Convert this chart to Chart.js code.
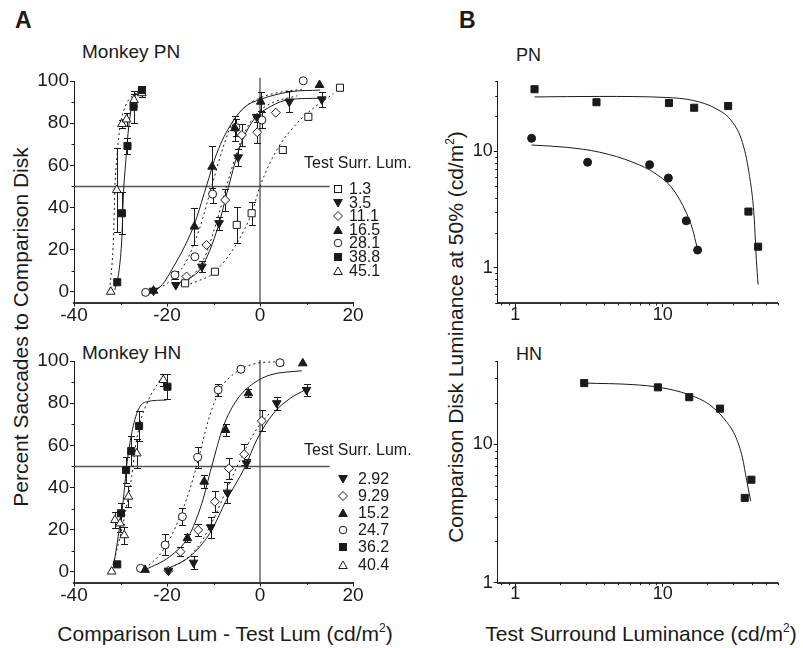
<!DOCTYPE html>
<html>
<head>
<meta charset="utf-8">
<script src="https://cdn.jsdelivr.net/npm/chart.js@4.4.1/dist/chart.umd.min.js"></script>
<style>
  body { margin: 0; background: #fff; width: 803px; height: 648px; position: relative; overflow: hidden;
         font-family: "Liberation Sans", Arial, sans-serif; color: #1a1a1a; }
  canvas { position: absolute; }
  .t { position: absolute; white-space: nowrap; line-height: 1; }
  .vt { position: absolute; white-space: nowrap; line-height: 1; transform: translate(-50%, -50%) rotate(-90deg); }
  .ct { position: absolute; white-space: nowrap; line-height: 1; transform: translate(-50%, -50%); }
  sup { font-size: 12px; vertical-align: 9px; line-height: 0; }
  .lg { position: absolute; font-size: 16px; line-height: 1; white-space: nowrap; }
  .lg svg { position: absolute; }
</style>
</head>
<body>
<div class="t" style="left:15px;top:9px;font-size:23px;font-weight:bold;">A</div>
<div class="t" style="left:459px;top:9px;font-size:23px;font-weight:bold;">B</div>
<div class="t" style="left:82px;top:42px;font-size:19px;">Monkey PN</div>
<div class="t" style="left:82px;top:343px;font-size:19px;">Monkey HN</div>
<div class="t" style="left:516px;top:46px;font-size:18px;">PN</div>
<div class="t" style="left:516px;top:345px;font-size:18px;">HN</div>
<div class="vt" style="left:20px;top:327px;font-size:21px;">Percent Saccades to Comparison Disk</div>
<div class="ct" style="left:225px;top:633px;font-size:21px;">Comparison Lum - Test Lum (cd/m<sup>2</sup>)</div>
<div class="vt" style="left:455px;top:337px;font-size:21px;">Comparison Disk Luminance at 50% (cd/m<sup>2</sup>)</div>
<div class="ct" style="left:641px;top:633px;font-size:21px;">Test Surround Luminance (cd/m<sup>2</sup>)</div>

<canvas id="aPN" width="400" height="270" style="left:0;top:60px;"></canvas>
<canvas id="aHN" width="400" height="280" style="left:0;top:330px;"></canvas>
<canvas id="bPN" width="383" height="270" style="left:420px;top:60px;"></canvas>
<canvas id="bHN" width="383" height="280" style="left:420px;top:330px;"></canvas>
<div id="legPN"></div>
<div id="legHN"></div>

<script>
// ---------- Panel A, monkey PN ----------
const pnLabels = ['1.3', '3.5', '11.1', '16.5', '28.1', '38.8', '45.1'];

const pn1_3x = [-16.1, -9.7, -5.0, -1.8, 4.9, 10.4, 17.2];
const pn1_3y = [4.1, 9.6, 31.8, 37.3, 67.3, 83.0, 96.8];
const pn1_3e = [0, 0, 8.7, 5.5, 1.5, 1, 0];

const pn3_5x = [-22.9, -18.1, -12.5, -8.8, -4.7, -0.7, 6.3, 13.3];
const pn3_5y = [0.6, 3.3, 12.0, 32.6, 63.8, 83.0, 90.2, 91.3];
const pn3_5e = [0, 0, 2.5, 3, 4, 0, 5, 3.5];

const pn11_1x = [-15.8, -11.5, -7.5, -3.9, -0.6, 3.4];
const pn11_1y = [7.3, 22.3, 43.6, 74.4, 75.7, 85.0];
const pn11_1e = [0, 0, 5, 5, 5, 0];

const pn16_5x = [-22.9, -14.1, -10.3, -5.4, 0.15, 12.8];
const pn16_5y = [0.6, 31.0, 59.4, 77.6, 90.2, 98.1];
const pn16_5e = [0, 8.7, 10, 6, 4.5, 0];

const pn28_1x = [-24.6, -18.3, -14.0, -10.2, -5.2, 0.4, 9.3];
const pn28_1y = [-0.2, 8.1, 16.7, 46.4, 78.0, 81.5, 100.1];
const pn28_1e = [0, 2, 0, 4, 4, 4, 0];

const pn38_8x = [-30.7, -29.7, -28.5, -27.2, -25.4];
const pn38_8y = [4.6, 37.3, 69.2, 87.8, 95.7];
const pn38_8e = [0, 10, 4, 7.5, 2];

const pn45_1x = [-32.1, -30.8, -29.7, -28.7, -27.1, -25.4];
const pn45_1y = [0.1, 48.3, 79.6, 81.8, 91.0, 94.2];
const pn45_1e = [0, 20, 2, 3, 3, 2];

// fitted curves, PN
const fitPN1_3x = [-16, -13, -10, -5, -1.8, 0, 3.6, 8.6, 12, 15.8];
const fitPN1_3y = [3, 5.5, 8.9, 23, 37.3, 50, 67.3, 81.5, 88, 94];
const fitPN3_5x = [-18, -12.5, -9, -6.8, -4.3, -1.4, 2.2, 6.5, 13];
const fitPN3_5y = [3.5, 12, 31, 49.6, 68.9, 81.5, 87.8, 91.3, 91.8];
const fitPN11_1x = [-18, -15, -12, -9.5, -7.2, -5, -3, 0, 3, 8];
const fitPN11_1y = [2, 6.5, 16, 32, 50, 66, 77, 86, 90, 93];
const fitPN16_5x = [-23, -21, -19.4, -14.3, -11.6, -9.3, -6.1, -3.2, 0.1, 6.5, 12.9];
const fitPN16_5y = [0, 3.5, 8.9, 31, 49.6, 65.7, 80, 87.8, 91.3, 94.9, 95.7];
const fitPN28_1x = [-25, -20, -16, -13, -10.4, -8, -6, -3, 0, 5, 9];
const fitPN28_1y = [0, 4, 14, 30, 50, 68, 80, 88, 92, 95, 96];
const fitPN38_8x = [-31.2, -30.3, -29.7, -29.4, -28.9, -28.3, -27.6, -26.2, -25.4];
const fitPN38_8y = [1, 10.4, 26.2, 45, 61, 76.8, 87.8, 94.9, 96.5];
const fitPN45_1x = [-32.3, -31.5, -31.2, -30.7, -30.1, -29, -27.2, -25.4];
const fitPN45_1y = [1, 26, 49.6, 65.7, 78.3, 87.8, 93.4, 95];

// ---------- Panel A, monkey HN ----------
const hnLabels = ['2.92', '9.29', '15.2', '24.7', '36.2', '40.4'];

const hn2_92x = [-19.7, -14.3, -10.6, -7.0, -2.9, 3.6, 10.0];
const hn2_92y = [0.6, 4.4, 21.2, 37.6, 51.5, 80.0, 86.3];
const hn2_92e = [0, 3, 5, 5, 2, 3, 3];

const hn9_29x = [-19.7, -17.1, -13.3, -9.7, -6.7, -3.4, 0.4];
const hn9_29y = [0.6, 9.6, 19.9, 33.3, 49.1, 55.8, 71.6];
const hn9_29e = [0, 2, 3, 5, 5, 5, 5];

const hn15_2x = [-24.7, -15.6, -12.0, -7.4, -2.5, 9.2];
const hn15_2y = [1.0, 16.0, 42.8, 67.3, 84.7, 98.9];
const hn15_2e = [0, 2, 3, 3, 2, 0];

const hn24_7x = [-25.7, -20.4, -16.7, -13.4, -9.0, -4.1, 4.3];
const hn24_7y = [1.7, 12.8, 26.2, 54.3, 86.3, 96.1, 99.2];
const hn24_7e = [0, 5, 4, 5, 3, 0, 1];

const hn36_2x = [-30.7, -29.9, -28.8, -27.7, -26.0, -19.9];
const hn36_2y = [3.6, 27.8, 48.3, 57.3, 69.2, 87.8];
const hn36_2e = [0, 5, 6, 7, 7, 6];

const hn40_4x = [-31.9, -31.2, -30.1, -29.2, -28.3, -26.5, -20.8];
const hn40_4y = [0.2, 24.6, 23.0, 17.4, 35.7, 56.2, 91.0];
const hn40_4e = [0, 4, 4, 4, 5, 7, 3];

// fitted curves, HN
const fitHN2_92x = [-20.4, -15.1, -10.8, -7.2, -3.2, -0.7, 2.9, 6.5, 9.7];
const fitHN2_92y = [1, 7.3, 18.3, 34.1, 49.9, 62.6, 75.2, 82.3, 86.3];
const fitHN9_29x = [-20.4, -16, -13, -10, -7, -4.5, -2, 0, 2];
const fitHN9_29y = [1, 6, 13, 25, 40, 52, 63, 70, 75];
const fitHN15_2x = [-24.7, -19.4, -15.4, -12.5, -10.4, -7.9, -5, -1.4, 2.2, 9];
const fitHN15_2y = [1, 7.3, 16.7, 32.6, 49.9, 68.9, 81.5, 89.4, 93.4, 95.4];
const fitHN24_7x = [-24.7, -20.8, -17.2, -14.7, -13.3, -11.1, -8.6, -5, -0.7, 4.3];
const fitHN24_7y = [1.5, 10.4, 26.2, 42, 53, 72, 86.3, 94.9, 98.9, 99.7];
const fitHN36_2x = [-31.5, -30.5, -29.4, -28.7, -27.6, -26.2, -24.4, -20.1];
const fitHN36_2y = [2.5, 16.7, 34.1, 49.9, 65.7, 76.8, 80.7, 81.5];
const fitHN40_4x = [-31.9, -30.1, -28.7, -27.6, -26.9, -25.8, -24, -21.5];
const fitHN40_4y = [1, 16.7, 31, 45.2, 57.8, 70.5, 81.5, 91];

// reference lines of panel A
const line50x = [-40, 15];
const line50y = [50, 50];
const lineZeroX = [0, 0];
const lineZeroYpn = [-5, 101.5];
const lineZeroYhn = [-5, 100.5];

// axis ticks
const aTicksX = [-40, -30, -20, -10, 0, 10, 20];
const aTicksY = [0, 10, 20, 30, 40, 50, 60, 70, 80, 90, 100];
const bTicksX = [0.8, 0.9, 1, 2, 3, 4, 5, 6, 7, 8, 9, 10, 20, 30, 40, 50, 60];
const bTicksYpn = [0.5, 0.6, 0.7, 0.8, 0.9, 1, 2, 3, 4, 5, 6, 7, 8, 9, 10, 20, 30, 40];
const bTicksYhn = [1, 2, 3, 4, 5, 6, 7, 8, 9, 10, 20, 30, 40];

// ---------- Panel B ----------
const bPNsqX = [1.35, 3.55, 11.0, 16.3, 27.7, 38.0, 44.2];
const bPNsqY = [34.0, 26.3, 25.9, 23.6, 24.4, 3.04, 1.52];
const bPNciX = [1.29, 3.09, 8.13, 10.9, 14.4, 17.2];
const bPNciY = [12.9, 8.04, 7.67, 5.89, 2.53, 1.42];
const fitBPNsqX = [1.35, 3.74, 10.5, 15.9, 22.9, 29.6, 34.6, 38.3, 41.5, 43, 44.2];
const fitBPNsqY = [29.2, 29.5, 28.9, 27.3, 23.2, 17.8, 11.9, 6.59, 2.79, 1.18, 0.72];
const fitBPNciX = [1.29, 2.23, 3.74, 6.27, 9.0, 11.7, 14.4, 15.9, 17.0];
const fitBPNciY = [11.3, 10.8, 9.8, 8.04, 6.38, 4.73, 2.98, 2.14, 1.52];

const bHNsqX = [2.93, 9.25, 15.1, 24.4, 35.9, 39.8];
const bHNsqY = [27.7, 25.8, 21.9, 18.1, 4.1, 5.55];
const fitBHNx = [2.93, 6.27, 9.5, 15.1, 20.6, 26.8, 31.3, 34.6, 37, 39.4];
const fitBHNy = [27.7, 27, 25.8, 22.8, 19.4, 14.7, 11.2, 8.02, 5.46, 3.88];

// ---------- helpers ----------
const FONT = '"Liberation Sans", Arial, sans-serif';
const INK = '#1a1a1a';
Chart.defaults.font.family = FONT;
Chart.defaults.color = INK;

const MK = {
  openSquare: { style: 'rect', r: 5, filled: false, rot: 0 },
  fillSquare: { style: 'rect', r: 5, filled: true, rot: 0 },
  openCircle: { style: 'circle', r: 4, filled: false, rot: 0 },
  fillCircle: { style: 'circle', r: 4, filled: true, rot: 0 },
  openDiamond: { style: 'rectRot', r: 4.5, filled: false, rot: 0 },
  upTri: { style: 'triangle', r: 5, filled: true, rot: 0 },
  downTri: { style: 'triangle', r: 5, filled: true, rot: 180 },
  openTri: { style: 'triangle', r: 5, filled: false, rot: 0 }
};

function pts(xs, ys) {
  return xs.map((x, i) => ({ x: x, y: ys[i] }));
}

function markers(xs, ys, errs, mk) {
  return {
    data: pts(xs, ys),
    errors: errs,
    showLine: false,
    pointStyle: mk.style,
    pointRadius: mk.r,
    pointRotation: mk.rot,
    pointBackgroundColor: mk.filled ? INK : '#fff',
    pointBorderColor: INK,
    pointBorderWidth: 1,
    clip: false,
    order: 1
  };
}

function curve(xs, ys, dotted) {
  return {
    data: pts(xs, ys),
    showLine: true,
    pointRadius: 0,
    borderColor: INK,
    borderWidth: 1,
    borderDash: dotted ? [2, 3] : [],
    cubicInterpolationMode: 'monotone',
    clip: false,
    order: 2
  };
}

function refLine(xs, ys, color, width) {
  return {
    data: pts(xs, ys),
    showLine: true,
    pointRadius: 0,
    borderColor: color,
    borderWidth: width,
    clip: false,
    order: 3
  };
}

const errorBarPlugin = {
  id: 'errorBars',
  beforeDatasetsDraw(chart) {
    const ctx = chart.ctx;
    const x = chart.scales.x, y = chart.scales.y;
    ctx.save();
    ctx.strokeStyle = INK;
    ctx.lineWidth = 1;
    chart.data.datasets.forEach(ds => {
      if (!ds.errors) return;
      ds.data.forEach((p, i) => {
        const e = ds.errors[i];
        if (!e) return;
        const px = Math.round(x.getPixelForValue(p.x)) + 0.5;
        const yt = Math.round(y.getPixelForValue(p.y + e)) + 0.5;
        const yb = Math.round(y.getPixelForValue(p.y - e)) + 0.5;
        ctx.beginPath();
        ctx.moveTo(px, yt); ctx.lineTo(px, yb);
        ctx.moveTo(px - 3.5, yt); ctx.lineTo(px + 3.5, yt);
        ctx.moveTo(px - 3.5, yb); ctx.lineTo(px + 3.5, yb);
        ctx.stroke();
      });
    });
    ctx.restore();
  }
};

// unlabelled ticks get a short mark; labelled ones keep the normal tick
const minorTickPlugin = {
  id: 'minorTicks',
  afterDraw(chart) {
    const ctx = chart.ctx;
    ctx.save();
    ctx.strokeStyle = INK;
    ctx.lineWidth = 1;
    ['x', 'y'].forEach(k => {
      const s = chart.scales[k];
      s.ticks.forEach(t => {
        if (t.label !== '') return;
        const p = Math.round(s.getPixelForValue(t.value)) + 0.5;
        ctx.beginPath();
        if (s.isHorizontal()) { ctx.moveTo(p, s.top); ctx.lineTo(p, s.top + 2.5); }
        else { ctx.moveTo(s.right - 2.5, p); ctx.lineTo(s.right, p); }
        ctx.stroke();
      });
    });
    ctx.restore();
  }
};

function axis(type, min, max, tickVals, size, labelOf, fontSize, pad, borderW) {
  return {
    type: type,
    min: min,
    max: max,
    afterBuildTicks: s => { s.ticks = tickVals.map(v => ({ value: v })); },
    afterFit: s => { if (s.isHorizontal()) s.height = size; else s.width = size; },
    ticks: {
      autoSkip: false,
      maxRotation: 0,
      padding: pad,
      color: INK,
      font: { size: fontSize },
      callback: v => labelOf(v) ? String(v) : ''
    },
    grid: {
      display: true,
      drawOnChartArea: false,
      drawTicks: true,
      tickLength: 4,
      tickColor: c => (c.tick && c.tick.label !== '') ? INK : 'rgba(0,0,0,0)',
      tickWidth: 1
    },
    border: { display: true, color: borderW > 1 ? '#333' : INK, width: borderW }
  };
}

function makeChart(id, datasets, scales, padding) {
  return new Chart(document.getElementById(id), {
    type: 'scatter',
    data: { datasets: datasets },
    options: {
      responsive: false,
      animation: false,
      devicePixelRatio: 1,
      layout: { padding: padding },
      plugins: { legend: { display: false }, tooltip: { enabled: false } },
      scales: scales
    },
    plugins: [errorBarPlugin, minorTickPlugin]
  });
}

const evenTwenty = v => v % 20 === 0;
const decade = v => v === 1 || v === 10;

function aScales(xh) {
  return {
    x: axis('linear', -40, 20, aTicksX, xh, evenTwenty, 19, -2, 2),
    y: axis('linear', -5, 100, aTicksY, 74, evenTwenty, 19, 1, 1)
  };
}

// ---------- panel A charts ----------
makeChart('aPN', [
  markers(pn1_3x, pn1_3y, pn1_3e, MK.openSquare),
  markers(pn3_5x, pn3_5y, pn3_5e, MK.downTri),
  markers(pn11_1x, pn11_1y, pn11_1e, MK.openDiamond),
  markers(pn16_5x, pn16_5y, pn16_5e, MK.upTri),
  markers(pn28_1x, pn28_1y, pn28_1e, MK.openCircle),
  markers(pn38_8x, pn38_8y, pn38_8e, MK.fillSquare),
  markers(pn45_1x, pn45_1y, pn45_1e, MK.openTri),
  curve(fitPN1_3x, fitPN1_3y, true),
  curve(fitPN3_5x, fitPN3_5y, false),
  curve(fitPN11_1x, fitPN11_1y, true),
  curve(fitPN16_5x, fitPN16_5y, false),
  curve(fitPN28_1x, fitPN28_1y, true),
  curve(fitPN38_8x, fitPN38_8y, false),
  curve(fitPN45_1x, fitPN45_1y, true),
  refLine(line50x, line50y, '#555', 1.5),
  refLine(lineZeroX, lineZeroYpn, INK, 1)
], aScales(27.5), { left: 0, top: 21, right: 47, bottom: 0 });

makeChart('aHN', [
  markers(hn2_92x, hn2_92y, hn2_92e, MK.downTri),
  markers(hn9_29x, hn9_29y, hn9_29e, MK.openDiamond),
  markers(hn15_2x, hn15_2y, hn15_2e, MK.upTri),
  markers(hn24_7x, hn24_7y, hn24_7e, MK.openCircle),
  markers(hn36_2x, hn36_2y, hn36_2e, MK.fillSquare),
  markers(hn40_4x, hn40_4y, hn40_4e, MK.openTri),
  curve(fitHN2_92x, fitHN2_92y, false),
  curve(fitHN9_29x, fitHN9_29y, true),
  curve(fitHN15_2x, fitHN15_2y, false),
  curve(fitHN24_7x, fitHN24_7y, true),
  curve(fitHN36_2x, fitHN36_2y, false),
  curve(fitHN40_4x, fitHN40_4y, true),
  refLine(line50x, line50y, '#555', 1.5),
  refLine(lineZeroX, lineZeroYhn, INK, 1)
], aScales(27.5), { left: 0, top: 31, right: 47, bottom: 0 });

// ---------- panel B charts ----------
makeChart('bPN', [
  markers(bPNsqX, bPNsqY, null, MK.fillSquare),
  markers(bPNciX, bPNciY, null, MK.fillCircle),
  curve(fitBPNsqX, fitBPNsqY, false),
  curve(fitBPNciX, fitBPNciY, false)
], {
  x: axis('logarithmic', 0.76, 60, bTicksX, 27, decade, 18, -3, 2),
  y: axis('logarithmic', 0.5, 40, bTicksYpn, 77.7, decade, 18, 1, 1)
}, { left: 0, top: 21, right: 25.3, bottom: 0 });

makeChart('bHN', [
  markers(bHNsqX, bHNsqY, null, MK.fillSquare),
  curve(fitBHNx, fitBHNy, false)
], {
  x: axis('logarithmic', 0.76, 60, bTicksX, 27.3, decade, 18, -3, 2),
  y: axis('logarithmic', 1, 40, bTicksYhn, 77.7, decade, 18, 1, 1)
}, { left: 0, top: 31, right: 25.3, bottom: 0 });

// ---------- legends (panel A) ----------
function markerSvg(mk) {
  const f = mk.filled ? INK : '#fff';
  const a = `fill="${f}" stroke="${INK}" stroke-width="1"`;
  let shape;
  if (mk.style === 'rect') shape = `<rect x="2.5" y="2.5" width="7" height="7" ${a}/>`;
  else if (mk.style === 'circle') shape = `<circle cx="6" cy="6" r="3.8" ${a}/>`;
  else if (mk.style === 'rectRot') shape = `<polygon points="6,1.5 10.5,6 6,10.5 1.5,6" ${a}/>`;
  else if (mk.rot === 180) shape = `<polygon points="1.7,2.5 10.3,2.5 6,10" ${a}/>`;
  else shape = `<polygon points="6,2 10.3,9.5 1.7,9.5" ${a}/>`;
  return `<svg width="12" height="12" viewBox="0 0 12 12">${shape}</svg>`;
}

function buildLegend(id, labels, marks, titleLeft, titleY, rowY0, rowStep, markX, textX) {
  const el = document.getElementById(id);
  let html = `<div class="lg" style="left:${titleLeft}px;top:${titleY - 8}px;">Test Surr. Lum.</div>`;
  labels.forEach((lab, i) => {
    const cy = rowY0 + i * rowStep;
    html += `<div class="lg" style="left:${markX - 6}px;top:${cy - 6}px;width:12px;height:12px;">${markerSvg(marks[i])}</div>`;
    html += `<div class="lg" style="left:${textX}px;top:${cy - 8}px;">${lab}</div>`;
  });
  el.innerHTML = html;
}

buildLegend('legPN', pnLabels,
  [MK.openSquare, MK.downTri, MK.openDiamond, MK.upTri, MK.openCircle, MK.fillSquare, MK.openTri],
  304, 163, 189, 13.6, 338, 349);
buildLegend('legHN', hnLabels,
  [MK.downTri, MK.openDiamond, MK.upTri, MK.openCircle, MK.fillSquare, MK.openTri],
  304, 450, 479, 17.1, 343, 358);
</script>
</body>
</html>
